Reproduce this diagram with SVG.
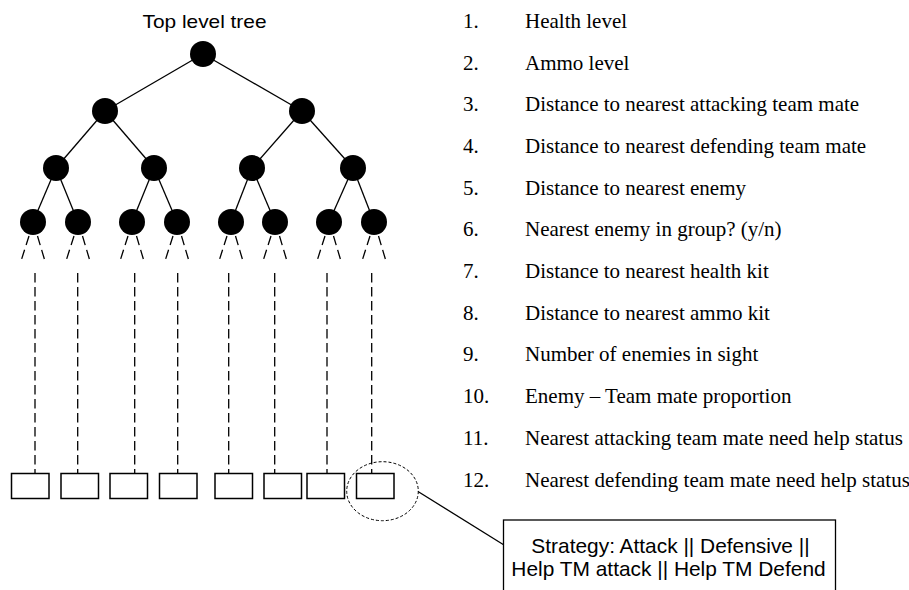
<svg xmlns="http://www.w3.org/2000/svg" width="909" height="590" viewBox="0 0 909 590">
  <style>
    .edge { stroke: #000; stroke-width: 1.3; fill: none; }
    .branch { stroke: #000; stroke-width: 1.3; fill: none; stroke-dasharray: 9.5 5; }
    .drop { stroke: #000; stroke-width: 1.3; fill: none; stroke-dasharray: 9.5 4.5; }
    .node { fill: #000; }
    .leafbox { fill: #fff; stroke: #000; stroke-width: 1.5; }
    .sans { font-family: "Liberation Sans", Arial, sans-serif; fill: #000; }
    .serif { font-family: "Liberation Serif", "Times New Roman", serif; font-size: 21px; fill: #000; }
  </style>
  <rect width="909" height="590" fill="#fff"/>

  <text class="sans" x="204.5" y="27.7" font-size="18.5" text-anchor="middle" textLength="124" lengthAdjust="spacingAndGlyphs">Top level tree</text>

  <!-- tree edges, open branches, dashed drops and callout leader -->
  <g id="connectors">
    <line class="edge" x1="203" y1="54" x2="105" y2="111"/>
    <line class="edge" x1="203" y1="54" x2="302" y2="111"/>
    <line class="edge" x1="105" y1="111" x2="56" y2="168"/>
    <line class="edge" x1="105" y1="111" x2="154" y2="168"/>
    <line class="edge" x1="302" y1="111" x2="252" y2="168"/>
    <line class="edge" x1="302" y1="111" x2="353" y2="168"/>
    <line class="edge" x1="56" y1="168" x2="33" y2="222"/>
    <line class="edge" x1="56" y1="168" x2="78" y2="222"/>
    <line class="edge" x1="154" y1="168" x2="132" y2="222"/>
    <line class="edge" x1="154" y1="168" x2="177" y2="222"/>
    <line class="edge" x1="252" y1="168" x2="231" y2="222"/>
    <line class="edge" x1="252" y1="168" x2="275" y2="222"/>
    <line class="edge" x1="353" y1="168" x2="329" y2="222"/>
    <line class="edge" x1="353" y1="168" x2="374" y2="222"/>

    <g id="open-branches">
      <line class="branch" x1="29" y1="236" x2="21.5" y2="259.5"/>
      <line class="branch" x1="37.5" y1="236" x2="44.5" y2="259.5"/>
      <line class="branch" x1="74" y1="236" x2="66.5" y2="259.5"/>
      <line class="branch" x1="82.5" y1="236" x2="89.5" y2="259.5"/>
      <line class="branch" x1="128" y1="236" x2="120.5" y2="259.5"/>
      <line class="branch" x1="136.5" y1="236" x2="143.5" y2="259.5"/>
      <line class="branch" x1="173" y1="236" x2="165.5" y2="259.5"/>
      <line class="branch" x1="181.5" y1="236" x2="188.5" y2="259.5"/>
      <line class="branch" x1="227" y1="236" x2="219.5" y2="259.5"/>
      <line class="branch" x1="235.5" y1="236" x2="242.5" y2="259.5"/>
      <line class="branch" x1="271" y1="236" x2="263.5" y2="259.5"/>
      <line class="branch" x1="279.5" y1="236" x2="286.5" y2="259.5"/>
      <line class="branch" x1="325" y1="236" x2="317.5" y2="259.5"/>
      <line class="branch" x1="333.5" y1="236" x2="340.5" y2="259.5"/>
      <line class="branch" x1="370" y1="236" x2="362.5" y2="259.5"/>
      <line class="branch" x1="378.5" y1="236" x2="385.5" y2="259.5"/>
    </g>

    <g id="drops">
      <line class="drop" x1="35" y1="273" x2="35" y2="474"/>
      <line class="drop" x1="77.7" y1="273" x2="77.7" y2="474"/>
      <line class="drop" x1="134.7" y1="273" x2="134.7" y2="474"/>
      <line class="drop" x1="177.7" y1="273" x2="177.7" y2="474"/>
      <line class="drop" x1="228.7" y1="273" x2="228.7" y2="474"/>
      <line class="drop" x1="274.7" y1="273" x2="274.7" y2="474"/>
      <line class="drop" x1="327" y1="273" x2="327" y2="474"/>
      <line class="drop" x1="371.7" y1="273" x2="371.7" y2="474"/>
    </g>

    <line class="edge" x1="418" y1="491.5" x2="504" y2="545"/>
  </g>

  <!-- decision nodes -->
  <g id="n-root"><circle class="node" cx="203" cy="54" r="13"/></g>
  <g id="n-l"><circle class="node" cx="105" cy="111" r="13"/></g>
  <g id="n-r"><circle class="node" cx="302" cy="111" r="13"/></g>
  <g id="n-ll"><circle class="node" cx="56" cy="168" r="13"/></g>
  <g id="n-lr"><circle class="node" cx="154" cy="168" r="13"/></g>
  <g id="n-rl"><circle class="node" cx="252" cy="168" r="13"/></g>
  <g id="n-rr"><circle class="node" cx="353" cy="168" r="13"/></g>
  <g id="n-lll"><circle class="node" cx="33" cy="222" r="13"/></g>
  <g id="n-llr"><circle class="node" cx="78" cy="222" r="13"/></g>
  <g id="n-lrl"><circle class="node" cx="132" cy="222" r="13"/></g>
  <g id="n-lrr"><circle class="node" cx="177" cy="222" r="13"/></g>
  <g id="n-rll"><circle class="node" cx="231" cy="222" r="13"/></g>
  <g id="n-rlr"><circle class="node" cx="275" cy="222" r="13"/></g>
  <g id="n-rrl"><circle class="node" cx="329" cy="222" r="13"/></g>
  <g id="n-rrr"><circle class="node" cx="374" cy="222" r="13"/></g>

  <!-- strategy leaves -->
  <g id="leaf-1"><rect class="leafbox" x="11.5" y="473.5" width="37.5" height="25"/></g>
  <g id="leaf-2"><rect class="leafbox" x="61" y="473.5" width="37.5" height="25"/></g>
  <g id="leaf-3"><rect class="leafbox" x="110" y="473.5" width="37.5" height="25"/></g>
  <g id="leaf-4"><rect class="leafbox" x="159.5" y="473.5" width="37.5" height="25"/></g>
  <g id="leaf-5"><rect class="leafbox" x="215" y="473.5" width="37.5" height="25"/></g>
  <g id="leaf-6"><rect class="leafbox" x="264" y="473.5" width="37.5" height="25"/></g>
  <g id="leaf-7"><rect class="leafbox" x="307" y="473.5" width="37.5" height="25"/></g>
  <g id="leaf-8"><rect class="leafbox" x="356.5" y="473.5" width="37.5" height="25"/></g>

  <g id="highlight">
    <ellipse cx="382.5" cy="491.2" rx="35.8" ry="29.5" fill="none" stroke="#000" stroke-width="1" stroke-dasharray="3 2"/>
  </g>

  <g id="strategy-callout">
    <rect x="503.5" y="520" width="332" height="80" fill="#fff" stroke="#000" stroke-width="1.3"/>
    <text class="sans" x="670.5" y="553.3" font-size="20.9" text-anchor="middle">Strategy: Attack || Defensive ||</text>
    <text class="sans" x="668.5" y="575.5" font-size="20.9" text-anchor="middle">Help TM attack || Help TM Defend</text>
  </g>

  <!-- input features -->
  <g id="feature-list" class="serif">
    <text x="463" y="27.8">1.</text><text x="525" y="27.8">Health level</text>
    <text x="463" y="69.5">2.</text><text x="525" y="69.5">Ammo level</text>
    <text x="463" y="111.2">3.</text><text x="525" y="111.2">Distance to nearest attacking team mate</text>
    <text x="463" y="152.9">4.</text><text x="525" y="152.9">Distance to nearest defending team mate</text>
    <text x="463" y="194.6">5.</text><text x="525" y="194.6">Distance to nearest enemy</text>
    <text x="463" y="236.3">6.</text><text x="525" y="236.3">Nearest enemy in group? (y/n)</text>
    <text x="463" y="278">7.</text><text x="525" y="278">Distance to nearest health kit</text>
    <text x="463" y="319.7">8.</text><text x="525" y="319.7">Distance to nearest ammo kit</text>
    <text x="463" y="361.4">9.</text><text x="525" y="361.4">Number of enemies in sight</text>
    <text x="463" y="403.1">10.</text><text x="525" y="403.1">Enemy – Team mate proportion</text>
    <text x="463" y="444.8">11.</text><text x="525" y="444.8">Nearest attacking team mate need help status</text>
    <text x="463" y="486.5">12.</text><text x="525" y="486.5">Nearest defending team mate need help status</text>
  </g>
</svg>
